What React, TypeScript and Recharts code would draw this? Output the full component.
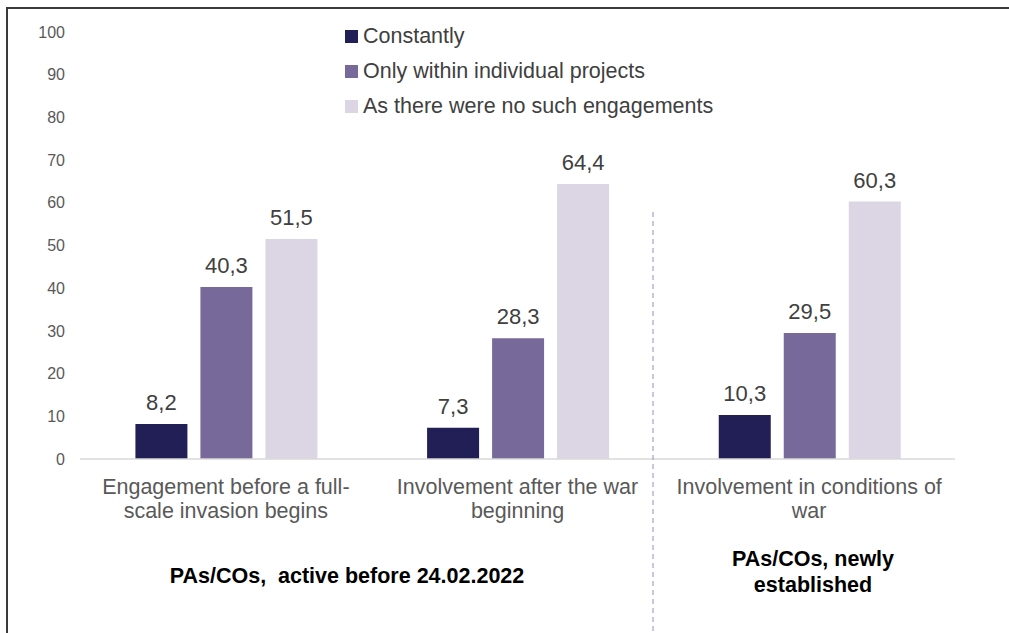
import React from 'react';
import { BarChart, Bar, XAxis, YAxis, LabelList } from 'recharts';

const categories = ['Engagement before a full-scale invasion begins', 'Involvement after the war beginning', 'Involvement in conditions of war'];
const categoryLines = [
    ['Engagement before a full-', 'scale invasion begins'],
    ['Involvement after the war', 'beginning'],
    ['Involvement in conditions of', 'war'],
];
const constantly = [8.2, 7.3, 10.3];
const projects = [40.3, 28.3, 29.5];
const noEngagements = [51.5, 64.4, 60.3];
const yTicks = [0, 10, 20, 30, 40, 50, 60, 70, 80, 90, 100];

const SERIES = [
    { key: 'constantly', name: 'Constantly', color: '#221f57' },
    { key: 'projects', name: 'Only within individual projects', color: '#776a9b' },
    { key: 'none', name: 'As there were no such engagements', color: '#dcd6e4' },
];

const data = categories.map((name, i) => ({
    name,
    constantly: constantly[i],
    projects: projects[i],
    none: noEngagements[i],
}));

const fmt = (v: any) => String(v).replace('.', ',');

const CategoryTick = ({ x, y, payload }: any) => {
    const idx = categories.indexOf(payload.value);
    const lines = categoryLines[idx] || [payload.value];
    return (
        <g transform={`translate(${x},${y})`}>
            {lines.map((l, i) => (
                <text key={i} x={0} y={0} dy={27 + i * 24} textAnchor="middle" fill="#595959" fontSize={21.5}>
                    {l}
                </text>
            ))}
        </g>
    );
};

// legend drawn as overlay so it doesn't push the plot area down
const LegendBox = () => (
    <div style={{ position: 'absolute', left: 345, top: 19 }}>
        {SERIES.map(s => (
            <div key={s.key} style={{ display: 'flex', alignItems: 'center', height: 35, fontSize: 21.5, color: '#404040', whiteSpace: 'nowrap' }}>
                <span style={{ width: 13, height: 13, background: s.color, marginRight: 5, display: 'inline-block' }} />
                {s.name}
            </div>
        ))}
    </div>
);

export default function App() {
    return (
        <div style={{ position: 'absolute', left: 0, top: 0, width: 1009, height: 633, background: '#fff', fontFamily: '"Liberation Sans", Arial, sans-serif', overflow: 'hidden' }}>
            {/* frame */}
            <div style={{ position: 'absolute', left: 6, top: 7, width: 1003, height: 2, background: '#3a3a3a' }} />
            <div style={{ position: 'absolute', left: 6, top: 7, width: 2, height: 626, background: '#3a3a3a' }} />
            <BarChart
                width={1009}
                height={633}
                data={data}
                margin={{ top: 32, right: 54, bottom: 0, left: 0 }}
                barCategoryGap="19%"
                barGap={13}
            >
                <XAxis
                    dataKey="name"
                    tickLine={false}
                    axisLine={{ stroke: '#d9d9d9', strokeWidth: 1.5 }}
                    height={174}
                    interval={0}
                    tick={<CategoryTick />}
                />
                <YAxis
                    domain={[0, 100]}
                    ticks={yTicks}
                    width={80}
                    tickLine={false}
                    axisLine={false}
                    tickMargin={9}
                    tick={{ fill: '#595959', fontSize: 16 }}
                    interval={0}
                />
                {SERIES.map(s => (
                    <Bar key={s.key} dataKey={s.key} name={s.name} fill={s.color} isAnimationActive={false}>
                        <LabelList dataKey={s.key} position="top" offset={14} formatter={fmt} fill="#404040" fontSize={22} />
                    </Bar>
                ))}
            </BarChart>
            <LegendBox />
            <svg style={{ position: 'absolute', left: 0, top: 0 }} width={1009} height={633}>
                <line x1={653} y1={212} x2={653} y2={633} stroke="#a9a3c4" strokeWidth={1.2} strokeDasharray="5 4" />
            </svg>
            <div style={{ position: 'absolute', left: 147, top: 564, width: 400, textAlign: 'center', fontWeight: 'bold', fontSize: 21.5, color: '#000', whiteSpace: 'pre' }}>
                {'PAs/COs,  active before 24.02.2022'}
            </div>
            <div style={{ position: 'absolute', left: 663, top: 546, width: 300, textAlign: 'center', fontWeight: 'bold', fontSize: 21.5, color: '#000', lineHeight: '26px' }}>
                PAs/COs, newly<br />established
            </div>
        </div>
    );
}
